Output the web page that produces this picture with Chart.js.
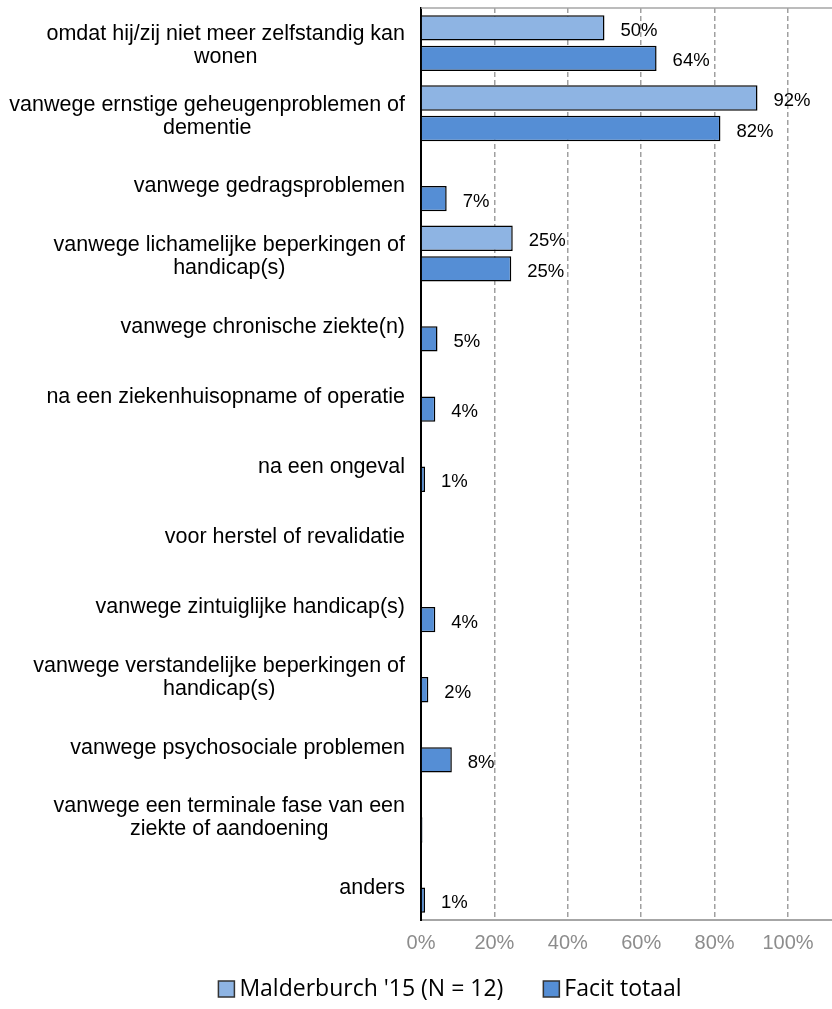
<!DOCTYPE html>
<html>
<head>
<meta charset="utf-8">
<script src="https://cdn.jsdelivr.net/npm/chart.js@4.4.1/dist/chart.umd.min.js"></script>
<style>
  html, body { margin: 0; padding: 0; background: #fff; }
  #wrap { width: 832px; height: 1009px; position: relative; }
</style>
</head>
<body>
<div id="wrap"><canvas id="chart"></canvas></div>
<script>
// categories (multi-line labels)
const categories = [
    ['omdat hij/zij niet meer zelfstandig kan', 'wonen'],
    ['vanwege ernstige geheugenproblemen of', 'dementie'],
    ['vanwege gedragsproblemen'],
    ['vanwege lichamelijke beperkingen of', 'handicap(s)'],
    ['vanwege chronische ziekte(n)'],
    ['na een ziekenhuisopname of operatie'],
    ['na een ongeval'],
    ['voor herstel of revalidatie'],
    ['vanwege zintuiglijke handicap(s)'],
    ['vanwege verstandelijke beperkingen of', 'handicap(s)'],
    ['vanwege psychosociale problemen'],
    ['vanwege een terminale fase van een', 'ziekte of aandoening'],
    ['anders']
];

const seriesNames = ["Malderburch '15 (N = 12)", 'Facit totaal'];
const malderburch = [50, 91.7, 0, 25, 0, 0, 0, 0, 0, 0, 0, 0, 0];
const facit = [64.2, 81.6, 7.0, 24.6, 4.5, 3.9, 1.1, 0.3, 3.9, 2.0, 8.4, 0.4, 1.1];

const xTicks = [0, 20, 40, 60, 80, 100];

const colors = ['#8eb4e3', '#558ed5'];

// category labels: right-aligned block, lines centered inside the block
const categoryLabels = {
    id: 'categoryLabels',
    afterDraw(chart) {
        const ctx = chart.ctx;
        const yScale = chart.scales.y;
        const rightEdge = chart.chartArea.left - 16;
        const lineHeight = 23;
        ctx.save();
        ctx.font = '21.5px "Liberation Sans", Arial, sans-serif';
        ctx.fillStyle = '#000';
        ctx.textAlign = 'center';
        ctx.textBaseline = 'middle';
        categories.forEach((lines, i) => {
            const yc = yScale.getPixelForValue(i) + 3;
            const w = Math.max(...lines.map(l => ctx.measureText(l).width));
            const xc = rightEdge - w / 2;
            const y0 = yc - (lines.length - 1) * lineHeight / 2;
            lines.forEach((l, j) => ctx.fillText(l, xc, y0 + j * lineHeight));
        });
        ctx.restore();
    }
};

// value labels next to each bar
const valueLabels = {
    id: 'valueLabels',
    afterDatasetsDraw(chart) {
        const ctx = chart.ctx;
        ctx.save();
        ctx.font = '18.5px "Liberation Sans", Arial, sans-serif';
        ctx.fillStyle = '#000';
        ctx.textAlign = 'left';
        ctx.textBaseline = 'middle';
        chart.data.datasets.forEach((ds, di) => {
            const meta = chart.getDatasetMeta(di);
            meta.data.forEach((bar, i) => {
                const v = ds.data[i];
                if (v < 0.5) return;
                ctx.fillText(Math.round(v) + '%', Math.max(bar.x, chart.chartArea.left + 2) + 16, bar.y + 3);
            });
        });
        ctx.restore();
    }
};

// thin grey line along the top of the plot area
const topLine = {
    id: 'topLine',
    beforeDatasetsDraw(chart) {
        const {ctx, chartArea} = chart;
        ctx.save();
        ctx.strokeStyle = '#a6a6a6';
        ctx.lineWidth = 1.5;
        ctx.beginPath();
        ctx.moveTo(chartArea.left, chartArea.top);
        ctx.lineTo(chartArea.right, chartArea.top);
        ctx.stroke();
        ctx.restore();
    }
};

// legend under the chart
const bottomLegend = {
    id: 'bottomLegend',
    afterDraw(chart) {
        const ctx = chart.ctx;
        const box = 16, gap = 5, itemGap = 40, centerX = 450, y = 989;
        ctx.save();
        ctx.font = '23px "Open Sans", sans-serif';
        ctx.textBaseline = 'middle';
        ctx.textAlign = 'left';
        const widths = seriesNames.map(n => ctx.measureText(n).width);
        const total = widths.reduce((a, w) => a + box + gap + w, 0) + itemGap * (seriesNames.length - 1);
        let x = centerX - total / 2;
        seriesNames.forEach((n, i) => {
            ctx.fillStyle = colors[i];
            ctx.fillRect(x, y - box / 2, box, box);
            ctx.strokeStyle = '#333';
            ctx.lineWidth = 1.5;
            ctx.strokeRect(x, y - box / 2, box, box);
            ctx.fillStyle = '#000';
            ctx.fillText(n, x + box + gap, y);
            x += box + gap + widths[i] + itemGap;
        });
        ctx.restore();
    }
};

new Chart(document.getElementById('chart'), {
    type: 'bar',
    data: {
        labels: categories,
        datasets: [
            {
                label: seriesNames[0],
                data: malderburch,
                backgroundColor: colors[0],
                borderColor: '#000',
                borderWidth: 1.5,
                categoryPercentage: 0.87,
                barPercentage: 0.83
            },
            {
                label: seriesNames[1],
                data: facit,
                backgroundColor: colors[1],
                borderColor: '#000',
                borderWidth: 1.5,
                categoryPercentage: 0.87,
                barPercentage: 0.83
            }
        ]
    },
    options: {
        indexAxis: 'y',
        responsive: true,
        maintainAspectRatio: false,
        animation: false,
        layout: { padding: { left: 0, top: 8, right: 0, bottom: 43 } },
        scales: {
            x: {
                min: 0,
                max: 112,
                afterBuildTicks(scale) {
                    scale.ticks = xTicks.map(v => ({ value: v }));
                },
                ticks: {
                    callback: v => v + '%',
                    color: '#8c8c8c',
                    font: { family: '"Liberation Sans", Arial, sans-serif', size: 20 },
                    padding: 11
                },
                grid: {
                    color: ctx => ctx.tick && ctx.tick.value === 0 ? 'rgba(0,0,0,0)' : '#a0a0a0',
                    lineWidth: 1.5,
                    drawTicks: false
                },
                border: { color: '#a6a6a6', width: 2, dash: [5, 3] }
            },
            y: {
                afterFit(scale) { scale.width = 421; },
                ticks: { display: false },
                grid: { display: false, drawTicks: false },
                border: { color: '#000', width: 2 }
            }
        },
        plugins: {
            legend: { display: false },
            tooltip: { enabled: false }
        }
    },
    plugins: [categoryLabels, valueLabels, topLine, bottomLegend]
});
</script>
</body>
</html>
